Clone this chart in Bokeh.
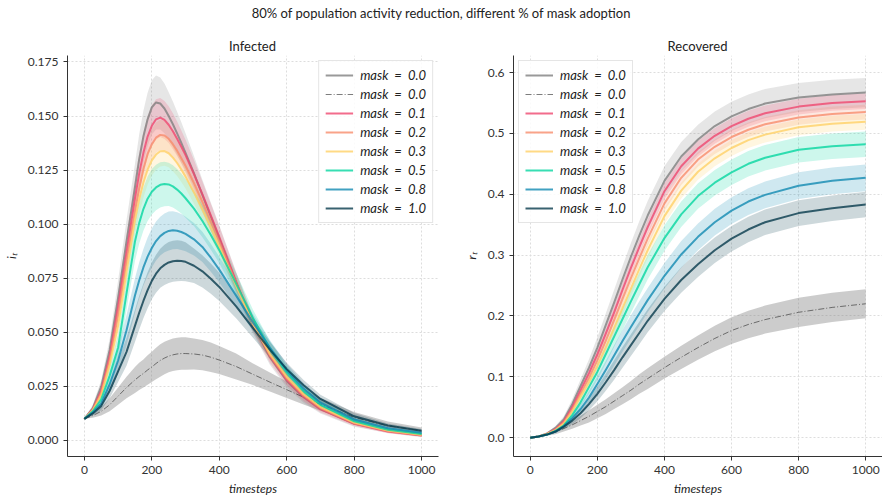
from bokeh.plotting import figure
from bokeh.layouts import column, row
from bokeh.models import ColumnDataSource, Legend, LegendItem, Range1d, FixedTicker, NumeralTickFormatter
from bokeh.core.properties import value
from bokeh.embed import file_html
from bokeh.resources import INLINE

# ---------------- data ----------------
title_text = "80% of population activity reduction, different % of mask adoption"
panel_titles = ["Infected", "Recovered"]
x_label = "timesteps"
y_labels = ["iₜ", "rₜ"]

series_names = ["mask\u2002=\u20020.0", "mask\u2002=\u20020.0", "mask\u2002=\u20020.1", "mask\u2002=\u20020.2",
                "mask\u2002=\u20020.3", "mask\u2002=\u20020.5", "mask\u2002=\u20020.8", "mask\u2002=\u20021.0"]

# timesteps sampled for the Infected panel
t_i = [0, 25, 50, 75, 100, 125, 150,
       162.5, 175, 187.5, 200, 212.5, 225, 237.5, 250, 262.5, 275, 287.5, 300,
       325, 350, 375,
       400, 450, 500, 550, 600, 650, 700,
       800, 900, 1000]

# Infected: mean values
i_m00 = [0.010, 0.015, 0.025, 0.042, 0.066, 0.092, 0.117,
         0.130, 0.1405, 0.1485, 0.1540, 0.1563, 0.1558, 0.1535, 0.1500, 0.1462, 0.1420, 0.1376, 0.1330,
         0.1235, 0.1135, 0.1035,
         0.0935, 0.0730, 0.0535, 0.0385, 0.0275, 0.0200, 0.0145,
         0.0078, 0.0045, 0.0025]
i_m00d = [0.010, 0.0115, 0.0135, 0.0165, 0.0205, 0.0245, 0.028,
          0.0296, 0.031, 0.0326, 0.034, 0.0356, 0.037, 0.0381, 0.039, 0.0396, 0.040, 0.0402, 0.0402,
          0.0400, 0.0395, 0.0385,
          0.0372, 0.0342, 0.0306, 0.0270, 0.0235, 0.0200, 0.0167,
          0.0107, 0.0068, 0.0045]
i_m01 = [0.010, 0.0145, 0.023, 0.039, 0.062, 0.087, 0.112,
         0.1235, 0.1330, 0.1405, 0.1455, 0.1485, 0.1493, 0.1482, 0.1460, 0.1430, 0.1395, 0.1358, 0.1320,
         0.1232, 0.1138, 0.1040,
         0.0940, 0.0735, 0.0540, 0.0390, 0.0280, 0.0202, 0.0145,
         0.0077, 0.0042, 0.0023]
i_m02 = [0.010, 0.014, 0.022, 0.037, 0.058, 0.083, 0.106,
         0.1165, 0.1255, 0.1325, 0.1370, 0.1400, 0.1413, 0.1410, 0.1395, 0.1370, 0.1340, 0.1305, 0.1270,
         0.1190, 0.1103, 0.1012,
         0.0918, 0.0725, 0.0540, 0.0395, 0.0287, 0.0208, 0.0150,
         0.0080, 0.0044, 0.0024]
i_m03 = [0.010, 0.014, 0.021, 0.035, 0.053, 0.078, 0.102,
         0.1115, 0.1192, 0.1252, 0.1295, 0.1322, 0.1337, 0.1338, 0.1328, 0.1308, 0.1283, 0.1253, 0.1220,
         0.1147, 0.1068, 0.0985,
         0.0898, 0.0715, 0.0540, 0.0400, 0.0295, 0.0214, 0.0155,
         0.0083, 0.0046, 0.0026]
i_m05 = [0.010, 0.0135, 0.019, 0.030, 0.043, 0.068, 0.092,
         0.1005, 0.1070, 0.1118, 0.1150, 0.1170, 0.1182, 0.1186, 0.1184, 0.1175, 0.1160, 0.1142, 0.1120,
         0.1072, 0.1015, 0.0950,
         0.0880, 0.0725, 0.0565, 0.0425, 0.0315, 0.0228, 0.0165,
         0.0089, 0.0050, 0.0030]
i_m08 = [0.010, 0.013, 0.017, 0.026, 0.037, 0.051, 0.067,
         0.0740, 0.0800, 0.0850, 0.0890, 0.0922, 0.0945, 0.0960, 0.0969, 0.0972, 0.0970, 0.0964, 0.0955,
         0.0930, 0.0895, 0.0845,
         0.0790, 0.0670, 0.0545, 0.0430, 0.0325, 0.0240, 0.0175,
         0.0097, 0.0057, 0.0036]
i_m10 = [0.010, 0.0125, 0.016, 0.023, 0.032, 0.041, 0.053,
         0.0590, 0.0645, 0.0695, 0.0738, 0.0771, 0.0796, 0.0812, 0.0823, 0.0829, 0.0831, 0.0830, 0.0826,
         0.0808, 0.0782, 0.0748,
         0.0710, 0.0620, 0.0520, 0.0420, 0.0330, 0.0255, 0.0192,
         0.0112, 0.0069, 0.0045]

# Infected: band half-widths
i_s00 = [0, 0.0015, 0.003, 0.005, 0.008, 0.010, 0.011,
         0.0115, 0.012, 0.0123, 0.0125, 0.0125, 0.012, 0.0115, 0.011, 0.0105, 0.010, 0.0095, 0.009,
         0.008, 0.007, 0.0065,
         0.006, 0.005, 0.004, 0.0035, 0.003, 0.0025, 0.002,
         0.0015, 0.001, 0.001]
i_s00d = [0, 0.001, 0.002, 0.003, 0.004, 0.005, 0.006,
          0.0063, 0.0065, 0.0068, 0.007, 0.0073, 0.0075, 0.0075, 0.0075, 0.0075, 0.0075, 0.0075, 0.0075,
          0.0072, 0.007, 0.0068,
          0.0065, 0.006, 0.005, 0.0044, 0.0038, 0.0034, 0.003,
          0.0025, 0.002, 0.0015]
i_s01 = [0, 0.001, 0.002, 0.004, 0.006, 0.008, 0.009,
         0.0093, 0.0095, 0.0095, 0.0095, 0.0093, 0.009, 0.0088, 0.0085, 0.0083, 0.008, 0.0075, 0.007,
         0.0065, 0.006, 0.0055,
         0.005, 0.004, 0.0035, 0.003, 0.0025, 0.002, 0.0015,
         0.001, 0.0008, 0.0006]
i_s02 = [0, 0.001, 0.002, 0.0035, 0.005, 0.006, 0.007,
         0.007, 0.007, 0.007, 0.007, 0.007, 0.007, 0.0068, 0.0065, 0.0063, 0.006, 0.0058, 0.0055,
         0.0052, 0.005, 0.0045,
         0.004, 0.0035, 0.003, 0.0025, 0.002, 0.0018, 0.0015,
         0.001, 0.0008, 0.0006]
i_s03 = [0, 0.001, 0.002, 0.0035, 0.005, 0.006, 0.007,
         0.007, 0.007, 0.007, 0.007, 0.007, 0.007, 0.0068, 0.0065, 0.0063, 0.006, 0.0058, 0.0055,
         0.0052, 0.005, 0.0045,
         0.004, 0.0035, 0.003, 0.0025, 0.002, 0.0018, 0.0015,
         0.001, 0.0008, 0.0006]
i_s05 = [0, 0.001, 0.002, 0.004, 0.006, 0.0075, 0.009,
         0.0095, 0.010, 0.0103, 0.0105, 0.0105, 0.0105, 0.0103, 0.010, 0.0098, 0.0095, 0.0093, 0.009,
         0.008, 0.0075, 0.0068,
         0.006, 0.005, 0.004, 0.0035, 0.003, 0.0025, 0.002,
         0.0015, 0.001, 0.0008]
i_s08 = [0, 0.001, 0.002, 0.004, 0.006, 0.007, 0.008,
         0.0083, 0.0085, 0.0088, 0.009, 0.009, 0.009, 0.009, 0.009, 0.0088, 0.0085, 0.0083, 0.008,
         0.0075, 0.007, 0.0065,
         0.006, 0.005, 0.004, 0.0035, 0.003, 0.0025, 0.002,
         0.0015, 0.001, 0.0008]
i_s10 = [0, 0.001, 0.002, 0.0035, 0.005, 0.0065, 0.0075,
         0.0078, 0.008, 0.0083, 0.0085, 0.0088, 0.009, 0.0093, 0.0095, 0.0095, 0.0095, 0.0093, 0.009,
         0.008, 0.0075, 0.007,
         0.0065, 0.0055, 0.0045, 0.0037, 0.003, 0.0025, 0.002,
         0.0015, 0.001, 0.0008]

# timesteps sampled for the Recovered panel
t_r = [0, 25, 50, 75, 100, 125, 150, 175, 200, 225, 250, 275, 300, 325, 350, 400, 450, 500, 550, 600, 650, 700, 800, 900, 1000]

# Recovered: mean values
r_m00 = [0, 0.002, 0.007, 0.016, 0.030, 0.055, 0.085, 0.115, 0.148, 0.185, 0.222, 0.260, 0.297, 0.332, 0.365, 0.422, 0.462, 0.490, 0.512, 0.528, 0.540, 0.549, 0.559, 0.564, 0.567]
r_m00d = [0, 0.002, 0.005, 0.009, 0.015, 0.021, 0.028, 0.035, 0.043, 0.051, 0.060, 0.069, 0.078, 0.088, 0.097, 0.115, 0.132, 0.148, 0.163, 0.176, 0.186, 0.194, 0.206, 0.214, 0.220]
r_m01 = [0, 0.002, 0.006, 0.014, 0.027, 0.050, 0.078, 0.106, 0.137, 0.171, 0.206, 0.243, 0.279, 0.313, 0.346, 0.405, 0.446, 0.475, 0.496, 0.512, 0.524, 0.533, 0.544, 0.550, 0.553]
r_m02 = [0, 0.002, 0.006, 0.013, 0.025, 0.046, 0.072, 0.098, 0.127, 0.159, 0.193, 0.228, 0.262, 0.295, 0.327, 0.385, 0.427, 0.457, 0.478, 0.494, 0.506, 0.515, 0.526, 0.532, 0.535]
r_m03 = [0, 0.002, 0.006, 0.012, 0.023, 0.043, 0.067, 0.091, 0.118, 0.148, 0.180, 0.213, 0.245, 0.277, 0.308, 0.364, 0.406, 0.437, 0.459, 0.476, 0.489, 0.498, 0.510, 0.516, 0.519]
r_m05 = [0, 0.002, 0.005, 0.011, 0.020, 0.037, 0.058, 0.083, 0.108, 0.137, 0.166, 0.195, 0.224, 0.252, 0.280, 0.328, 0.367, 0.397, 0.419, 0.436, 0.450, 0.460, 0.473, 0.479, 0.482]
r_m08 = [0, 0.002, 0.005, 0.010, 0.019, 0.032, 0.047, 0.066, 0.088, 0.111, 0.135, 0.159, 0.182, 0.204, 0.226, 0.266, 0.301, 0.330, 0.354, 0.373, 0.388, 0.399, 0.414, 0.422, 0.427]
r_m10 = [0, 0.002, 0.005, 0.010, 0.018, 0.028, 0.040, 0.055, 0.072, 0.091, 0.111, 0.132, 0.152, 0.172, 0.192, 0.228, 0.259, 0.285, 0.308, 0.327, 0.342, 0.354, 0.369, 0.377, 0.383]

# Recovered: band half-widths
r_s00 = [0, 0.0005, 0.001, 0.003, 0.005, 0.008, 0.011, 0.014, 0.017, 0.019, 0.021, 0.022, 0.023, 0.0235, 0.024, 0.024, 0.024, 0.024, 0.024, 0.024, 0.024, 0.024, 0.024, 0.024, 0.024]
r_s00d = [0, 0.001, 0.002, 0.0035, 0.005, 0.0065, 0.008, 0.010, 0.011, 0.012, 0.013, 0.014, 0.015, 0.016, 0.017, 0.018, 0.019, 0.020, 0.021, 0.022, 0.0225, 0.023, 0.024, 0.024, 0.024]
r_s01 = [0, 0.0005, 0.001, 0.002, 0.003, 0.0045, 0.006, 0.008, 0.009, 0.010, 0.011, 0.012, 0.012, 0.0125, 0.013, 0.013, 0.013, 0.013, 0.013, 0.013, 0.013, 0.013, 0.013, 0.013, 0.013]
r_s02 = [0, 0.0005, 0.001, 0.002, 0.003, 0.0045, 0.006, 0.007, 0.008, 0.009, 0.010, 0.011, 0.011, 0.0115, 0.012, 0.012, 0.012, 0.012, 0.012, 0.012, 0.012, 0.012, 0.012, 0.012, 0.012]
r_s03 = [0, 0.0005, 0.001, 0.002, 0.003, 0.0045, 0.006, 0.008, 0.009, 0.010, 0.011, 0.012, 0.012, 0.0125, 0.013, 0.013, 0.013, 0.013, 0.013, 0.013, 0.013, 0.013, 0.013, 0.013, 0.013]
r_s05 = [0, 0.0005, 0.001, 0.0025, 0.004, 0.006, 0.008, 0.011, 0.013, 0.015, 0.017, 0.018, 0.019, 0.0195, 0.020, 0.021, 0.021, 0.021, 0.021, 0.021, 0.021, 0.021, 0.021, 0.021, 0.021]
r_s08 = [0, 0.0005, 0.001, 0.0025, 0.004, 0.006, 0.008, 0.011, 0.013, 0.015, 0.017, 0.018, 0.019, 0.020, 0.020, 0.021, 0.022, 0.022, 0.022, 0.022, 0.022, 0.022, 0.022, 0.022, 0.022]
r_s10 = [0, 0.0005, 0.001, 0.0025, 0.004, 0.006, 0.008, 0.010, 0.012, 0.014, 0.016, 0.017, 0.018, 0.0185, 0.019, 0.020, 0.021, 0.021, 0.021, 0.021, 0.021, 0.021, 0.021, 0.021, 0.021]

i_y_ticks = [0.0, 0.025, 0.05, 0.075, 0.1, 0.125, 0.15, 0.175]
r_y_ticks = [0.0, 0.1, 0.2, 0.3, 0.4, 0.5, 0.6]
x_ticks = [0, 200, 400, 600, 800, 1000]

# ---------------- styles ----------------
line_colors = ["#808080", "#333333", "#ef476f", "#f78c6b", "#ffd166", "#06d6a0", "#118ab2", "#073b4c"]
band_colors = ["#808080", "#808080", "#ef476f", "#f78c6b", "#ffd166", "#06d6a0", "#118ab2", "#073b4c"]
band_alphas = [0.2, 0.4, 0.2, 0.2, 0.2, 0.2, 0.2, 0.2]
line_widths = [2, 0.8, 2, 2, 2, 2, 2, 2]
line_dashes = ["solid", "6 2 1 2", "solid", "solid", "solid", "solid", "solid", "solid"]
FONT = "Lato"


def make_panel(tt, means, sds, yr, yticks, yfmt, ylabel, legend_loc, ml, mr):
    p = figure(width=441, height=443, x_range=Range1d(-50, 1050), y_range=Range1d(*yr),
               output_backend="svg", toolbar_location=None,
               min_border_left=ml, min_border_right=mr, min_border_top=0, min_border_bottom=41)
    p.outline_line_color = None
    items = []
    for k in range(len(means)):
        lo = [m - s for m, s in zip(means[k], sds[k])]
        hi = [m + s for m, s in zip(means[k], sds[k])]
        src = ColumnDataSource(dict(t=tt, lo=lo, hi=hi))
        p.varea(x="t", y1="lo", y2="hi", source=src, fill_color=band_colors[k], fill_alpha=band_alphas[k])
    for k in range(len(means)):
        src = ColumnDataSource(dict(t=tt, m=means[k]))
        r = p.line(x="t", y="m", source=src, line_color=line_colors[k], line_alpha=0.8,
                   line_width=line_widths[k], line_dash=line_dashes[k], line_join="round")
        items.append(LegendItem(label=series_names[k], renderers=[r]))
    leg = Legend(items=items, location=legend_loc)
    leg.label_text_font = FONT
    leg.label_text_font_size = "13px"
    leg.label_text_font_style = "italic"
    leg.label_text_color = "#222222"
    leg.border_line_color = "#cccccc"
    leg.background_fill_alpha = 0.85
    leg.glyph_width = 28
    leg.glyph_height = 14
    leg.label_height = 14
    leg.label_standoff = 7
    leg.spacing = 3
    leg.padding = 6
    leg.margin = 5
    p.add_layout(leg)

    p.xaxis.ticker = FixedTicker(ticks=x_ticks)
    p.yaxis.ticker = FixedTicker(ticks=yticks)
    p.yaxis.formatter = NumeralTickFormatter(format=yfmt)
    for ax in (p.xaxis[0], p.yaxis[0]):
        ax.axis_line_color = "#333333"
        ax.major_tick_line_color = "#333333"
        ax.major_tick_out = 4
        ax.major_tick_in = 0
        ax.minor_tick_line_color = None
        ax.major_label_text_font = FONT
        ax.major_label_text_font_size = "12px"
        ax.major_label_text_color = "#333333"
        ax.axis_label_text_font = FONT
        ax.axis_label_text_font_size = "12px"
        ax.axis_label_text_font_style = "italic"
        ax.axis_label_text_color = "#222222"
    p.xaxis.axis_label = x_label
    p.yaxis.axis_label = ylabel
    p.xaxis.axis_label_standoff = 4
    p.yaxis.axis_label_standoff = 6
    p.grid.grid_line_color = "#dddddd"
    p.grid.grid_line_dash = "2 2"
    return p


p1 = make_panel(t_i, [i_m00, i_m00d, i_m01, i_m02, i_m03, i_m05, i_m08, i_m10],
                [i_s00, i_s00d, i_s01, i_s02, i_s03, i_s05, i_s08, i_s10],
                (-0.0074, 0.178), i_y_ticks, "0.000", y_labels[0], "top_right", 66, 3)
p2 = make_panel(t_r, [r_m00, r_m00d, r_m01, r_m02, r_m03, r_m05, r_m08, r_m10],
                [r_s00, r_s00d, r_s01, r_s02, r_s03, r_s05, r_s08, r_s10],
                (-0.031, 0.628), r_y_ticks, "0.0", y_labels[1], "top_left", 72, 0)

# header with the overall title and the panel titles
h = figure(width=882, height=55, x_range=Range1d(0, 882), y_range=Range1d(55, 0),
           output_backend="svg", toolbar_location=None, min_border=0)
h.axis.visible = False
h.grid.visible = False
h.outline_line_color = None
h.text(x=[441], y=[12], text=[title_text], text_align="center", text_baseline="middle",
       text_font=value(FONT), text_font_size="13px", text_color="#222222")
h.text(x=[252, 697], y=[45, 45], text=panel_titles, text_align="center", text_baseline="middle",
       text_font=value(FONT), text_font_size="13px", text_color="#222222")

layout = column(h, row(p1, p2, spacing=0), spacing=0)
open("out.html", "w").write(file_html(layout, INLINE))
